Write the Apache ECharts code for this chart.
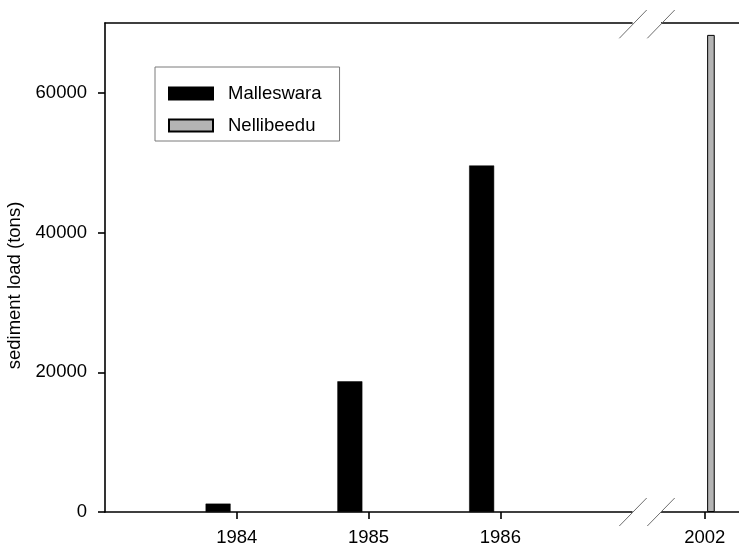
<!DOCTYPE html>
<html><head><meta charset="utf-8">
<script src="https://cdn.jsdelivr.net/npm/echarts@6/dist/echarts.min.js"></script>
<style>html,body{margin:0;padding:0;background:#fff}#c{width:739px;height:550px}</style>
</head><body><div id="c"></div>
<script>
// ---- data ----
const yearTicks = [1984, 1985, 1986, 2002];
const malleswaraYears = [1984, 1985, 1986];
const malleswaraLoad = [1200, 18700, 49600];
const nellibeeduYears = [2002];
const nellibeeduLoad = [68300];
const yTickValues = [0, 20000, 40000, 60000];

// ---- axis config ----
const X_MIN = 1983, X_MAX = 2002.26;
const BREAKS = [{ start: 1987, end: 2001.667, gap: 0.218 }];
const Y_MAX = 70000;
const FONT = 'Liberation Sans, Arial, sans-serif';
const FS = 18.5;

const chart = echarts.init(document.getElementById('c'), null, { renderer: 'canvas' });

function hiddenX(gi) {
  return { type: 'value', gridIndex: gi, min: X_MIN, max: X_MAX, breaks: BREAKS,
    breakArea: { show: false }, show: false, splitLine: { show: false } };
}
function hiddenY(gi) {
  return { type: 'value', gridIndex: gi, min: 0, max: Y_MAX, show: false, splitLine: { show: false } };
}
const axisLine = { show: true, lineStyle: { color: '#000', width: 1.6 } };

const option = {
  animation: false,
  backgroundColor: '#fff',
  textStyle: { fontFamily: FONT },
  grid: [
    { left: 105, right: 0, top: 23, bottom: 38, outerBoundsMode: 'none' },
    { left: 105 - 18.7, right: 18.7, top: 23, bottom: 38, outerBoundsMode: 'none' },
    { left: 105 + 6.2, right: -6.2, top: 23, bottom: 38, outerBoundsMode: 'none' }
  ],
  legend: {
    orient: 'vertical', left: 155, top: 67,
    padding: [17, 18, 6, 13],
    borderColor: '#7a7a7a', borderWidth: 1,
    itemWidth: 44, itemHeight: 12, itemGap: 13,
    icon: 'rect',
    textStyle: { fontSize: FS, color: '#000', fontFamily: FONT, padding: [0, 0, 0, 10] },
    data: ['Malleswara', 'Nellibeedu']
  },
  xAxis: [
    { type: 'value', gridIndex: 0, position: 'bottom', min: X_MIN, max: X_MAX,
      breaks: BREAKS, breakArea: { show: false },
      axisLine: axisLine,
      axisTick: { show: true, length: 7, inside: false, customValues: yearTicks, lineStyle: { color: '#000', width: 1.6 } },
      axisLabel: { customValues: yearTicks, fontSize: FS, color: '#000', margin: 16, fontFamily: FONT,
        formatter: v => String(v) },
      splitLine: { show: false } },
    { type: 'value', gridIndex: 0, position: 'top', min: X_MIN, max: X_MAX,
      breaks: BREAKS, breakArea: { show: false },
      axisLine: axisLine, axisTick: { show: false }, axisLabel: { show: false }, splitLine: { show: false } },
    hiddenX(1), hiddenX(2)
  ],
  yAxis: [
    { type: 'value', gridIndex: 0, min: 0, max: Y_MAX,
      axisLine: axisLine,
      axisTick: { show: true, length: 7, customValues: yTickValues, lineStyle: { color: '#000', width: 1.6 } },
      axisLabel: { customValues: yTickValues, fontSize: FS, color: '#000', margin: 18, fontFamily: FONT,
        formatter: v => String(v) },
      splitLine: { show: false },
      name: 'sediment load (tons)', nameLocation: 'middle', nameGap: 69,
      nameTextStyle: { fontSize: FS, color: '#000', fontFamily: FONT, padding: [0, 36, 0, 0] } },
    hiddenY(1), hiddenY(2)
  ],
  series: [
    { name: 'Malleswara', type: 'bar', xAxisIndex: 2, yAxisIndex: 1, barWidth: 25,
      itemStyle: { color: '#000', borderColor: '#000', borderWidth: 0.5 },
      data: malleswaraYears.map((y, i) => [y, malleswaraLoad[i]]) },
    { name: 'Nellibeedu', type: 'bar', xAxisIndex: 3, yAxisIndex: 2, barWidth: 7.6,
      itemStyle: { color: '#b4b4b4', borderColor: '#000', borderWidth: 1 },
      data: nellibeeduYears.map((y, i) => [y, nellibeeduLoad[i]]) }
  ],
  graphic: [
    { type: 'rect', z: 100, shape: { x: 634, y: 20, width: 27, height: 7 }, style: { fill: '#fff' } },
    { type: 'rect', z: 100, shape: { x: 634, y: 509, width: 27, height: 7 }, style: { fill: '#fff' } },
    { type: 'line', z: 101, shape: { x1: 619.3, y1: 38.3, x2: 646.7, y2: 10 }, style: { stroke: '#6e6e6e', lineWidth: 1 } },
    { type: 'line', z: 101, shape: { x1: 647.3, y1: 38.3, x2: 674.7, y2: 10 }, style: { stroke: '#6e6e6e', lineWidth: 1 } },
    { type: 'line', z: 101, shape: { x1: 619.3, y1: 526, x2: 646.7, y2: 498 }, style: { stroke: '#6e6e6e', lineWidth: 1 } },
    { type: 'line', z: 101, shape: { x1: 647.3, y1: 526, x2: 674.7, y2: 498 }, style: { stroke: '#6e6e6e', lineWidth: 1 } }
  ]
};
chart.setOption(option);
</script>
</body></html>
